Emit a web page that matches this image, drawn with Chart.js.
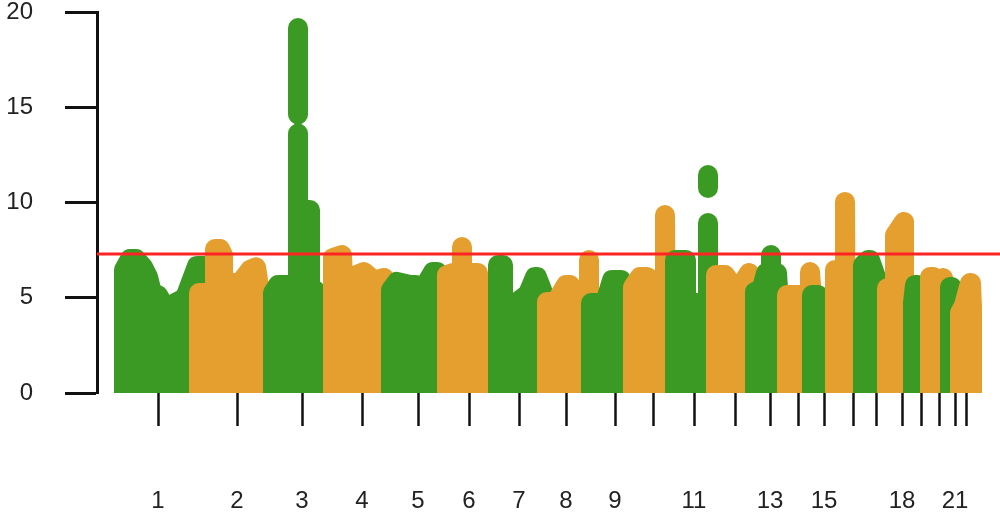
<!DOCTYPE html>
<html><head><meta charset="utf-8">
<script src="https://cdn.jsdelivr.net/npm/chart.js@4.4.1/dist/chart.umd.min.js"></script>
<style>html,body{margin:0;padding:0;background:#fff}canvas{display:block}</style>
</head><body>
<canvas id="c" width="1000" height="515"></canvas>
<script>
// Chromosome tick positions (cumulative position units) and labels
const chromTickPos = [58,137,202,262,318,369,419,466,515,553,594,635,670,698,724,753,776,802,821,839,855,866];
const chromTickLabels = ['1','2','3','4','5','6','7','8','9','','11','','13','','15','','','18','','','21',''];
const threshold = 7.3;

// Upper envelope of -log10(p) per chromosome: [position, -log10 p]
const chr1 = [[24,0],[24,6.46],[30,7.03],[36,7.03],[43,6.61],[48,6.09],[52,5.25],[58,5.14],[68,4.2],[75,4.72],[85,4.99],[97,6.67],[104,6.67],[107,0]];
const chr2 = [[99,0],[99,5.25],[115,5.25],[115,7.56],[120,7.56],[123,7.24],[123,5.77],[140,5.77],[150,6.46],[156,6.6],[160,5.3],[165,5.3],[165,0]];
const chr3 = [[173,0],[173,5.25],[178,5.67],[198,5.67],[198,13.62],[198,9.6],[210,9.6],[210,5.4],[215,5.4],[215,0]];
const chr3Peak = [[198,19.16],[198,14.62]];
const chr4 = [[233,0],[233,7.09],[242,7.24],[243,6.0],[252,6.09],[264,6.35],[274,5.9],[284,6.04],[284,0]];
const chr5 = [[291,0],[291,5.41],[297,5.83],[310,5.67],[316,5.67],[322,5.35],[333,6.35],[337,6.35],[342,5.5],[342,0]];
const chr6 = [[347,0],[347,6.19],[353,6.3],[362,6.3],[362,7.66],[362,6.3],[378,6.3],[378,0]];
const chr7 = [[398,0],[398,6.72],[403,6.72],[403,4.51],[413,4.51],[420,4.88],[428,5.2],[435,6.09],[437,6.09],[445,5.0],[445,0]];
const chr8 = [[447,0],[447,4.78],[456,4.78],[466,5.67],[470,5.67],[480,5.0],[489,5.0],[489,6.98],[489,0]];
const chr9 = [[491,0],[491,4.72],[496,4.72],[502,4.2],[512,5.93],[521,5.93],[525,5.3],[525,0]];
const chr10 = [[533,0],[533,5.56],[540,6.09],[547,6.09],[555,5.8],[565,5.8],[565,9.34],[566,0]];
const chr11 = [[575,0],[575,6.98],[586,6.98],[586,4.72],[608,4.72],[608,8.92],[608,4.72],[612,4.72],[612,0]];
const chr11Peak = [[608,11.44],[608,10.76]];
const chr12 = [[616,0],[616,6.19],[625,6.19],[637,5.3],[649,6.3],[655,5.5],[655,0]];
const chr13 = [[655,0],[655,5.3],[662,5.5],[666,6.3],[671,6.3],[671,7.24],[671,6.3],[677,6.3],[678,5.5],[678,0]];
const chr14 = [[687,0],[687,5.14],[710,5.14],[710,6.35],[712,5.0],[712,0]];
const chr15 = [[712,0],[712,5.14],[718,5.14],[722,5.0],[722,0]];
const chr16 = [[735,0],[735,6.46],[745,6.46],[745,10.03],[746,0]];
const chr17 = [[763,0],[763,6.72],[768,6.98],[770,6.98],[778,5.77],[778,0]];
const chr18 = [[787,0],[787,5.5],[795,5.5],[795,8.29],[804,8.98],[804,5.5],[806,0]];
const chr19 = [[813,0],[813,4.72],[815,5.67],[818,5.67],[820,0]];
const chr20 = [[830,0],[830,6.09],[833,6.09],[838,5.8],[843,6.04],[845,5.5],[845,0]];
const chr21 = [[850,0],[850,5.56],[852,5.56],[854,4.5],[854,0]];
const chr22 = [[860,0],[860,4.2],[864,4.6],[870,5.77],[871,5.77],[872,4.5],[872,0]];

const chroms = [chr1,chr2,chr3,chr4,chr5,chr6,chr7,chr8,chr9,chr10,chr11,chr12,chr13,chr14,chr15,chr16,chr17,chr18,chr19,chr20,chr21,chr22];
const extraPeaks = [{chrom:2, pts:chr3Peak},{chrom:10, pts:chr11Peak}];

const GREEN = '#3b9a24', ORANGE = '#e49f2f';
const clipBottom = {left:false, top:false, right:false, bottom:0};
const datasets = [];
datasets.push({data:[[-3,threshold],[900,threshold]], borderColor:'#ff2424', borderWidth:3,
  pointRadius:0, fill:false, order:0, clip:false, tension:0});
chroms.forEach((pts,i)=>{
  const col = i%2===0 ? GREEN : ORANGE;
  datasets.push({data:pts, borderColor:col, backgroundColor:col, borderWidth:20,
    borderJoinStyle:'round', borderCapStyle:'round', pointRadius:0, pointHoverRadius:0,
    fill:'origin', tension:0, order:30-i, clip:clipBottom});
});
extraPeaks.forEach(p=>{
  const col = p.chrom%2===0 ? GREEN : ORANGE;
  datasets.push({data:p.pts, borderColor:col, backgroundColor:col, borderWidth:20,
    borderJoinStyle:'round', borderCapStyle:'round', pointRadius:0, pointHoverRadius:0,
    fill:false, tension:0, order:30-p.chrom, clip:clipBottom});
});

const tickFont = {family:"'Liberation Sans', Arial, sans-serif", size:24, lineHeight:1};

new Chart(document.getElementById('c'), {
  type:'line',
  data:{datasets},
  options:{
    responsive:false, animation:false, devicePixelRatio:1, events:[],
    layout:{padding:{top:12,right:0,bottom:0,left:0}},
    plugins:{legend:{display:false}, tooltip:{enabled:false}},
    scales:{
      x:{
        type:'linear', min:-3, max:900,
        afterBuildTicks:(s)=>{ s.ticks = chromTickPos.map(v=>({value:v})); },
        afterFit:(s)=>{ s.height = 122; s.paddingLeft = 0; s.paddingRight = 0; },
        ticks:{autoSkip:false, maxRotation:0, minRotation:0, padding:63, color:'#222', font:tickFont,
          callback:(v,i)=>chromTickLabels[i]},
        grid:{display:true, drawOnChartArea:false, drawTicks:true, tickLength:33, tickWidth:2.5, tickColor:'#111'},
        border:{display:false}
      },
      y:{
        min:0, max:20,
        afterFit:(s)=>{ s.width = 97; s.paddingTop = 0; s.paddingBottom = 0; },
        ticks:{stepSize:5, padding:32, color:'#222', font:tickFont},
        grid:{display:true, drawOnChartArea:false, drawTicks:true, tickLength:32, tickWidth:3, tickColor:'#111'},
        border:{display:true, color:'#111', width:3}
      }
    }
  }
});
</script>
</body></html>
